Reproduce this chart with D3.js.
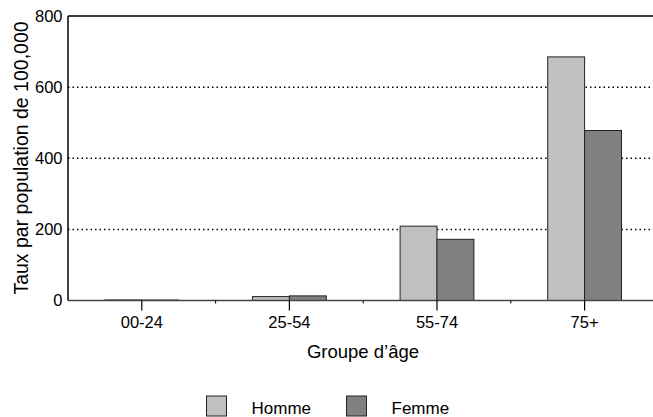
<!DOCTYPE html>
<html><head><meta charset="utf-8">
<script src="https://cdn.jsdelivr.net/npm/d3@7"></script>
<style>body{margin:0;background:#fff}svg{display:block}text{font-family:"Liberation Sans",Arial,sans-serif;fill:#000}</style>
</head><body><svg id="c" width="653" height="417"></svg>
<script>
const categories = ["00-24","25-54","55-74","75+"];
const seriesNames = ["Homme","Femme"];
const homme = [1.5, 11, 209, 685];
const femme = [1.2, 13, 172, 478];
const yTicks = [0,200,400,600,800];
const gridTicks = [200,400,600];
const colors = ["#c0c0c0","#808080"];

const svg = d3.select("#c");
const pL = 68, pR = 658.4, pT = 16, pB = 300.5;
const x = d3.scaleBand().domain(categories).range([pL, pR]).padding(0);
const xs = d3.scaleBand().domain(seriesNames).range([0, x.bandwidth()*0.5]);
const y = d3.scaleLinear().domain([0,800]).range([pB, pT]);
const data = categories.map((c,i)=>({cat:c, vals:[homme[i], femme[i]]}));
const FF = "Liberation Sans, Arial, sans-serif";

// gridlines
svg.append("g").selectAll("line").data(gridTicks).join("line")
  .attr("x1", pL).attr("x2", 653).attr("y1", d=>y(d)).attr("y2", d=>y(d))
  .attr("stroke","#000").attr("stroke-width",1.5).attr("stroke-dasharray","1.5,3");

// bars
const g = svg.append("g").selectAll("g").data(data).join("g")
  .attr("transform", d=>`translate(${x(d.cat)+x.bandwidth()*0.25},0)`);
g.selectAll("rect").data(d=>d.vals.map((v,k)=>({k,v}))).join("rect")
  .attr("x", d=>xs(seriesNames[d.k])).attr("width", xs.bandwidth())
  .attr("y", d=>y(d.v)).attr("height", d=>y(0)-y(d.v))
  .attr("fill", d=>colors[d.k]).attr("stroke","#222").attr("stroke-width",1);

// frame top and left
svg.append("line").attr("x1",pL).attr("x2",653).attr("y1",pT).attr("y2",pT).attr("stroke","#000").attr("stroke-width",1.5);
svg.append("line").attr("x1",pL).attr("x2",pL).attr("y1",pT).attr("y2",pB).attr("stroke","#000").attr("stroke-width",1.5);

// x axis
const xa = svg.append("g").attr("transform",`translate(0,${pB})`)
  .call(d3.axisBottom(x).tickSize(10).tickPadding(6));
xa.attr("font-size",16.5).attr("font-family",FF);
xa.select(".domain").attr("stroke","#444").attr("stroke-width",1.5).attr("d",`M${pL},0H653`);
xa.selectAll(".tick line").attr("stroke","#000").attr("stroke-width",1.2);
xa.selectAll(".tick text").attr("fill","#000");
// minor ticks at band boundaries
svg.append("g").selectAll("line").data(categories.slice(1)).join("line")
  .attr("x1", d=>x(d)).attr("x2", d=>x(d)).attr("y1", pB).attr("y2", pB+3)
  .attr("stroke","#000").attr("stroke-width",1);

// y axis labels
const ya = svg.append("g").attr("transform",`translate(${pL},0)`)
  .call(d3.axisLeft(y).tickValues(yTicks).tickSize(0).tickPadding(5.5));
ya.attr("font-size",16.5).attr("font-family",FF);
ya.select(".domain").remove();
ya.selectAll(".tick text").attr("fill","#000");

// axis titles
svg.append("text").attr("x",363).attr("y",358).attr("text-anchor","middle").attr("font-size",18.5).attr("font-family",FF).text("Groupe d’âge");
svg.append("text").attr("transform","translate(28,158) rotate(-90)").attr("text-anchor","middle").attr("font-size",19.5).attr("font-family",FF).text("Taux par population de 100,000");

// legend
const legX = [206.5, 346.5];
const lg = svg.append("g").selectAll("g").data(seriesNames).join("g")
  .attr("transform",(d,i)=>`translate(${legX[i]},396)`);
lg.append("rect").attr("width",20).attr("height",20).attr("fill",(d,i)=>colors[i]).attr("stroke","#222").attr("stroke-width",1);
lg.append("text").attr("x",45).attr("y",17.5).attr("font-size",17).attr("font-family",FF).text(d=>d);
</script></body></html>
